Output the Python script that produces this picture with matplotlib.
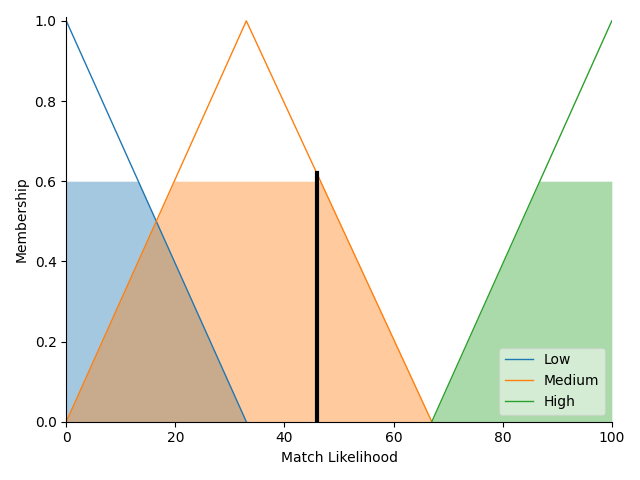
import matplotlib
matplotlib.use("Agg")
import matplotlib.pyplot as plt

# membership function vertices
low_x = [0, 33]
low_y = [1, 0]
med_x = [0, 33, 67]
med_y = [0, 1, 0]
high_x = [67, 100]
high_y = [0, 1]

# clipped activation areas
low_fill_x = [0, 13.2, 33]
low_fill_y = [0.6, 0.6, 0]
med_fill_x = [0, 19.8, 46.6, 67]
med_fill_y = [0, 0.6, 0.6, 0]
high_fill_x = [67, 86.8, 100]
high_fill_y = [0, 0.6, 0.6]

crisp = 46.05
crisp_height = 0.62

fig, ax = plt.subplots(figsize=(6.4, 4.8), dpi=100)
c = plt.rcParams["axes.prop_cycle"].by_key()["color"]

ax.plot(low_x, low_y, color=c[0], lw=1, label="Low")
ax.plot(med_x, med_y, color=c[1], lw=1, label="Medium")
ax.plot(high_x, high_y, color=c[2], lw=1, label="High")

ax.fill_between(low_fill_x, 0, low_fill_y, color=c[0], alpha=0.4, lw=0)
ax.fill_between(med_fill_x, 0, med_fill_y, color=c[1], alpha=0.4, lw=0)
ax.fill_between(high_fill_x, 0, high_fill_y, color=c[2], alpha=0.4, lw=0)

ax.plot([crisp, crisp], [0, crisp_height], "k", lw=3)

ax.set_xlim(0, 100)
ax.set_ylim(0, 1.01)
ax.set_xlabel("Match Likelihood")
ax.set_ylabel("Membership")
ax.spines["top"].set_visible(False)
ax.spines["right"].set_visible(False)
ax.legend(loc="lower right", framealpha=0.5)

fig.tight_layout()
fig.savefig("out.png")
